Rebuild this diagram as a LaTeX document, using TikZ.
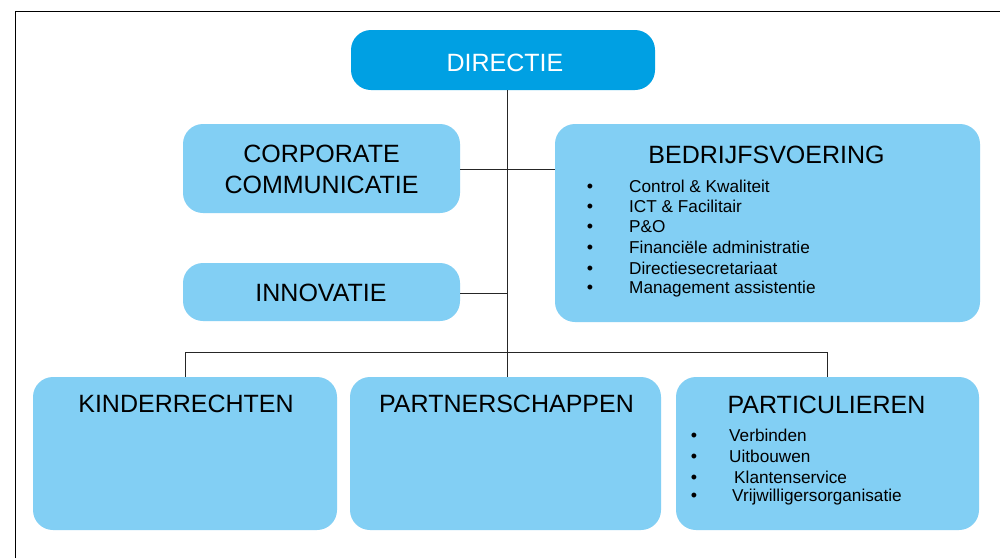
\documentclass[tikz,border=0pt]{standalone}
\usepackage{fontspec}
\setmainfont{Liberation Sans}
\definecolor{darkblue}{RGB}{0,160,227}
\definecolor{lightblue}{RGB}{130,207,244}
\begin{document}
\begin{tikzpicture}[x=1pt,y=-1pt,
  box/.style={fill=lightblue,draw=none,rounded corners=20pt,inner sep=0pt},
  topbox/.style={fill=darkblue,draw=none,rounded corners=20pt,inner sep=0pt},
  title/.style={font=\fontsize{25}{30}\selectfont,inner sep=0pt,align=center},
  item/.style={font=\fontsize{17.2}{20}\selectfont,inner sep=0pt,anchor=west},
  dot/.style={font=\fontsize{18}{20}\selectfont,inner sep=0pt,anchor=base},
  conn/.style={draw=black!85,line width=0.9pt}]
\useasboundingbox (0,0) rectangle (1000,558);
\fill[white] (0,0) rectangle (1000,558);
% frame
\draw[black,line width=1.3pt] (15.5,558) -- (15.5,11.5) -- (1000,11.5);
% boxes
\node[topbox,minimum width=304pt,minimum height=60pt] (dir) at (503,60) {};
\node[box,minimum width=277pt,minimum height=89pt] (corp) at (321.5,168.5) {};
\node[box,minimum width=277pt,minimum height=58pt] (inno) at (321.5,292) {};
\node[box,minimum width=425pt,minimum height=198pt] (bedr) at (767.5,223) {};
\node[box,minimum width=304pt,minimum height=153pt] (kind) at (185,453.5) {};
\node[box,minimum width=311pt,minimum height=153pt] (part) at (505.5,453.5) {};
\node[box,minimum width=303pt,minimum height=153pt] (partic) at (827.5,453.5) {};
% junctions
\coordinate (jtop) at (507,169);
\coordinate (jinn) at (507,293);
\coordinate (jbar) at (507,352);
\coordinate (bx) at (590,0);
\coordinate (px) at (694,0);
% connectors
\draw[conn] (jbar |- dir.south) -- (jbar |- part.north);
\draw[conn] (corp.east |- jtop) -- (bedr.west |- jtop);
\draw[conn] (inno.east |- jinn) -- (jinn);
\draw[conn] (kind.north) |- (partic.north |- jbar) -- (partic.north);
% titles
\node[title,text=white] (tdir) at (505,63) {DIRECTIE};
\node[title] (tcorp) at (321.5,169.5) {CORPORATE\\[1pt]COMMUNICATIE};
\node[title] (tinno) at (321,293) {INNOVATIE};
\node[title] (tbedr) at (766.5,155) {BEDRIJFSVOERING};
\node[title] (tkind) at (186,404) {KINDERRECHTEN};
\node[title] (tpart) at (506.5,404) {PARTNERSCHAPPEN};
\node[title] (tpartic) at (826.5,405) {PARTICULIEREN};
% bedrijfsvoering items
\foreach \t/\y [count=\i] in {Control \& Kwaliteit/186,ICT \& Facilitair/206.5,P\&O/227,Financiële administratie/247.5,Directiesecretariaat/268,Management assistentie/289}{
  \node[item] (bi\i) at (629,\y) {\t};
  \node[dot] (bd\i) at (bi\i.base -| bx) {•};
}
% particulieren items
\foreach \t/\x/\y [count=\i] in {Verbinden/729/435,Uitbouwen/729/456,Klantenservice/734/477,Vrijwilligersorganisatie/732/497}{
  \node[item] (pi\i) at (\x,\y) {\t};
  \node[dot] (pd\i) at (pi\i.base -| px) {•};
}
\end{tikzpicture}
\end{document}
